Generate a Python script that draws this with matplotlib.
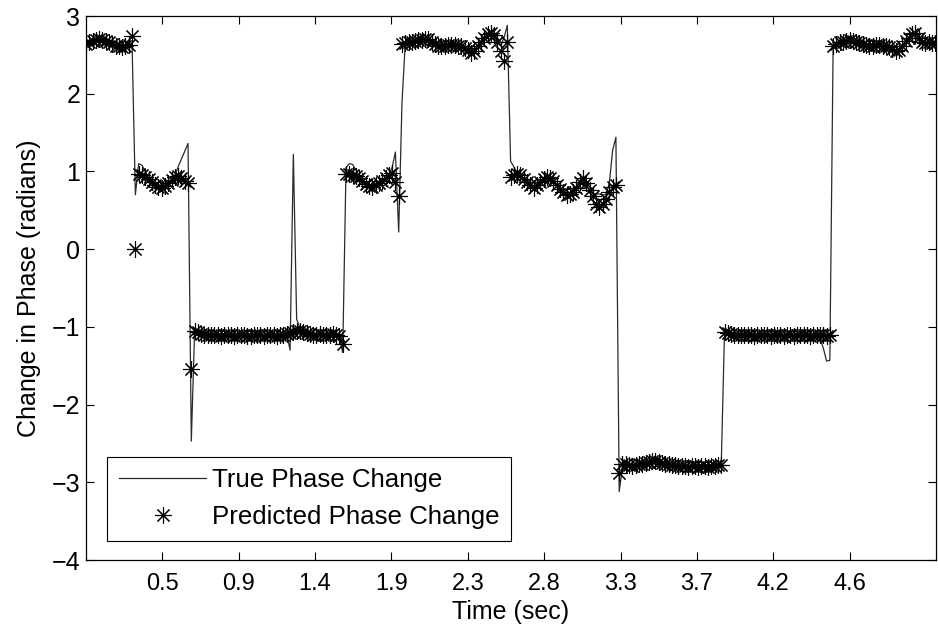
import numpy as np
import matplotlib.pyplot as plt
from matplotlib import font_manager

plt.rcParams['font.family'] = ['Liberation Sans', 'DejaVu Sans']

# sampling step of the phase estimates (sec)
dt = 0.02

# true phase change per sample (radians)
true_phase = [
    2.64, 2.66, 2.68, 2.69, 2.70, 2.69, 2.68, 2.66, 2.64, 2.62, 2.61, 2.60, 2.61, 2.63, 2.63,
    0.70,
    1.10, 1.08, 1.00, 0.92, 0.87, 0.83, 0.80, 0.79, 0.81, 0.85, 0.89, 0.95, 1.06, 1.16, 1.26, 1.36,
    -2.47,
    -1.05, -1.07, -1.09, -1.10, -1.10, -1.11, -1.10, -1.11, -1.12, -1.11, -1.10, -1.11, -1.12, -1.11,
    -1.10, -1.11, -1.12, -1.12, -1.11, -1.10, -1.11, -1.12, -1.11, -1.10, -1.11, -1.12, -1.11, -1.10,
    -1.09, -1.30, 1.22, -0.90, -1.02, -1.06, -1.08, -1.09, -1.10, -1.10, -1.09, -1.10, -1.11, -1.10,
    -1.09, -1.10, -1.14, -1.33,
    1.05, 1.10, 1.09, 1.02, 0.94, 0.88, 0.84, 0.81, 0.80, 0.82, 0.85, 0.88, 0.91, 0.95, 1.05, 1.25,
    0.22, 1.88,
    2.65, 2.66, 2.67, 2.68, 2.69, 2.69, 2.70, 2.70, 2.67, 2.64, 2.62, 2.61, 2.62, 2.63, 2.63, 2.63,
    2.62, 2.61, 2.59, 2.56, 2.53, 2.55, 2.61, 2.67, 2.72, 2.77, 2.78, 2.76, 2.66, 2.62, 2.72, 2.88,
    1.13, 1.06, 0.97, 0.95, 0.90, 0.86, 0.82, 0.79, 0.82, 0.87, 0.90, 0.93, 0.92, 0.88, 0.83, 0.78,
    0.73, 0.70, 0.71, 0.74, 0.79, 0.86, 0.91, 0.85, 0.74, 0.72, 0.71, 0.71, 0.70, 0.70, 0.85, 1.27,
    1.44,
    -3.12, -2.80, -2.77, -2.78, -2.79, -2.78, -2.77, -2.76, -2.75, -2.74, -2.73, -2.73, -2.74, -2.75,
    -2.76, -2.77, -2.78, -2.78, -2.79, -2.79, -2.79, -2.80, -2.79, -2.79, -2.80, -2.79, -2.79, -2.80,
    -2.79, -2.79, -2.78, -2.78,
    -1.06, -1.08, -1.09, -1.10, -1.10, -1.11, -1.10, -1.10, -1.11, -1.12, -1.11, -1.10, -1.11, -1.11,
    -1.12, -1.11, -1.10, -1.11, -1.12, -1.11, -1.11, -1.12, -1.11, -1.10, -1.11, -1.11, -1.12, -1.11,
    -1.10, -1.15, -1.27, -1.44, -1.43,
    2.62, 2.64, 2.66, 2.67, 2.68, 2.69, 2.68, 2.67, 2.65, 2.64, 2.63, 2.62, 2.62, 2.63, 2.63, 2.62,
    2.61, 2.60, 2.58, 2.55, 2.56, 2.62, 2.68, 2.72, 2.77, 2.78, 2.72, 2.66, 2.65, 2.66, 2.65, 2.65,
]

# predicted phase change per sample (radians)
pred_phase = [
    2.64, 2.66, 2.68, 2.69, 2.70, 2.69, 2.68, 2.66, 2.64, 2.62, 2.61, 2.60, 2.61, 2.63, 2.74,
    0.00,
    0.97, 0.96, 0.93, 0.90, 0.87, 0.83, 0.80, 0.79, 0.81, 0.85, 0.89, 0.93, 0.94, 0.91, 0.88, 0.85,
    -1.54,
    -1.05, -1.07, -1.09, -1.10, -1.10, -1.11, -1.10, -1.11, -1.12, -1.11, -1.10, -1.11, -1.12, -1.11,
    -1.10, -1.11, -1.12, -1.12, -1.11, -1.10, -1.11, -1.12, -1.11, -1.10, -1.11, -1.12, -1.11, -1.10,
    -1.09, -1.08, -1.06, -1.05, -1.05, -1.06, -1.08, -1.09, -1.10, -1.10, -1.09, -1.10, -1.11, -1.10,
    -1.09, -1.10, -1.12, -1.22,
    0.97, 0.97, 0.96, 0.94, 0.92, 0.88, 0.84, 0.81, 0.80, 0.82, 0.85, 0.88, 0.91, 0.95, 0.98, 0.86,
    0.69, 2.64,
    2.65, 2.66, 2.67, 2.68, 2.69, 2.69, 2.70, 2.70, 2.67, 2.64, 2.62, 2.61, 2.62, 2.63, 2.63, 2.63,
    2.62, 2.61, 2.59, 2.56, 2.53, 2.55, 2.61, 2.67, 2.72, 2.77, 2.78, 2.75, 2.67, 2.55, 2.42, 2.66,
    0.93, 0.95, 0.97, 0.95, 0.90, 0.86, 0.82, 0.79, 0.82, 0.87, 0.90, 0.93, 0.92, 0.88, 0.83, 0.78,
    0.73, 0.70, 0.71, 0.74, 0.79, 0.86, 0.91, 0.85, 0.76, 0.68, 0.58, 0.54, 0.58, 0.65, 0.73, 0.80,
    0.83,
    -2.88, -2.76, -2.77, -2.78, -2.79, -2.78, -2.77, -2.76, -2.75, -2.74, -2.73, -2.73, -2.74, -2.75,
    -2.76, -2.77, -2.78, -2.78, -2.79, -2.79, -2.79, -2.80, -2.79, -2.79, -2.80, -2.79, -2.79, -2.80,
    -2.79, -2.79, -2.78, -2.78,
    -1.06, -1.08, -1.09, -1.10, -1.10, -1.11, -1.10, -1.10, -1.11, -1.12, -1.11, -1.10, -1.11, -1.11,
    -1.12, -1.11, -1.10, -1.11, -1.12, -1.11, -1.11, -1.12, -1.11, -1.10, -1.11, -1.11, -1.12, -1.11,
    -1.10, -1.11, -1.11, -1.12, -1.10,
    2.62, 2.64, 2.66, 2.67, 2.68, 2.69, 2.68, 2.67, 2.65, 2.64, 2.63, 2.62, 2.62, 2.63, 2.63, 2.62,
    2.61, 2.60, 2.58, 2.55, 2.56, 2.62, 2.68, 2.72, 2.77, 2.78, 2.72, 2.66, 2.65, 2.66, 2.65, 2.65,
]

tick_labels = ['0.5', '0.9', '1.4', '1.9', '2.3', '2.8', '3.3', '3.7', '4.2', '4.6']

t = np.arange(len(true_phase)) * dt

# narrow font for the x axis text if it is there
names = {f.name for f in font_manager.fontManager.ttflist}
narrow = 'Liberation Sans Narrow' if 'Liberation Sans Narrow' in names else 'Liberation Sans'
x_size = 19 if narrow == 'Liberation Sans Narrow' else 17

fig = plt.figure(figsize=(9.38, 6.30), dpi=100)
ax = fig.add_axes([86 / 938, 70 / 630, 850 / 938, 544 / 630])

ax.plot(t, true_phase, color='#2a2a2a', linewidth=0.9, label='True Phase Change')
ax.plot(t, pred_phase, linestyle='none', marker=(8, 2, 0), markersize=12,
        markeredgewidth=0.8, color='black', label='Predicted Phase Change')

t_end = t[-1] + 0.005
ax.set_xlim(0, t_end)
ax.set_ylim(-4, 3)

step = t_end / 11.13
ax.set_xticks([step * (k + 1) for k in range(len(tick_labels))])
ax.set_xticklabels(tick_labels, fontfamily=narrow, fontsize=x_size)
ax.set_yticks(range(-4, 4))
ax.set_yticklabels(['\u22124', '\u22123', '\u22122', '\u22121', '0', '1', '2', '3'], fontsize=18)

ax.tick_params(direction='in', length=6, width=0.8, top=True, right=True, colors='black')
ax.tick_params(axis='x', pad=9)
ax.tick_params(axis='y', pad=4)
for s in ax.spines.values():
    s.set_linewidth(0.9)

ax.set_xlabel('Time (sec)', fontsize=x_size + 1, fontfamily=narrow, labelpad=4)
ax.set_ylabel('Change in Phase (radians)', fontsize=18, labelpad=8)

leg = ax.legend(loc='lower left', bbox_to_anchor=(0.0247, 0.035), fontsize=18.6,
                fancybox=False, framealpha=1, edgecolor='black', handlelength=3.4,
                handletextpad=0.2, borderaxespad=0, borderpad=0.45, labelspacing=0.5)
leg.get_frame().set_linewidth(0.8)

fig.savefig('out.png', dpi=100)
